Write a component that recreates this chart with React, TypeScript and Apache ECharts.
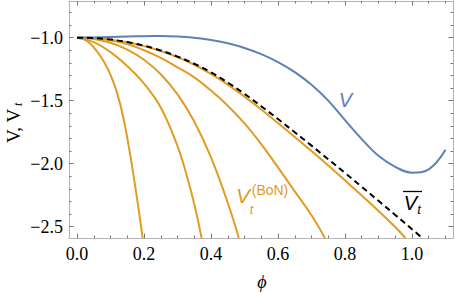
import { useEffect, useRef } from "react";
import * as echarts from "echarts";

// ---- data ----
const vPhi = [0, 0.05, 0.1, 0.15, 0.2, 0.25, 0.3, 0.35, 0.4, 0.45, 0.5, 0.55, 0.6, 0.65, 0.7, 0.75, 0.8, 0.85, 0.9, 0.95, 1.0, 1.05, 1.1];
const vVals = [-1.0, -0.998, -0.994, -0.99, -0.988, -0.987, -0.99, -1.0, -1.018, -1.045, -1.082, -1.131, -1.194, -1.274, -1.374, -1.5, -1.655, -1.805, -1.938, -2.025, -2.072, -2.045, -1.89];

const vbarPhi = [0, 0.05, 0.1, 0.15, 0.2, 0.25, 0.3, 0.35, 0.4, 0.45, 0.5, 0.55, 0.6, 0.65, 0.7, 0.75, 0.8, 0.85, 0.9, 0.95, 1.0, 1.03];
const vbarVals = [-1.0, -1.003, -1.015, -1.035, -1.064, -1.102, -1.15, -1.207, -1.276, -1.356, -1.446, -1.544, -1.646, -1.751, -1.857, -1.965, -2.074, -2.184, -2.295, -2.407, -2.52, -2.589];

const bon1Phi = [0, 0.02, 0.04, 0.06, 0.08, 0.1, 0.12, 0.14, 0.16, 0.18, 0.196];
const bon1Vals = [-1.0, -1.012, -1.048, -1.11, -1.19, -1.295, -1.44, -1.655, -1.95, -2.29, -2.59];

const bon2Phi = [0, 0.05, 0.1, 0.15, 0.2, 0.25, 0.3, 0.325, 0.35, 0.372];
const bon2Vals = [-1.0, -1.035, -1.115, -1.225, -1.365, -1.555, -1.86, -2.07, -2.32, -2.59];

const bon3Phi = [0, 0.05, 0.1, 0.15, 0.2, 0.25, 0.3, 0.35, 0.4, 0.45, 0.483];
const bon3Vals = [-1.0, -1.01, -1.04, -1.095, -1.175, -1.29, -1.45, -1.665, -1.95, -2.31, -2.59];

const bon4Phi = [0, 0.05, 0.1, 0.15, 0.2, 0.25, 0.3, 0.35, 0.4, 0.45, 0.5, 0.55, 0.6, 0.65, 0.7, 0.74];
const bon4Vals = [-1.0, -1.005, -1.02, -1.05, -1.1, -1.16, -1.235, -1.315, -1.42, -1.54, -1.68, -1.845, -2.03, -2.22, -2.41, -2.59];

const bon5Phi = [0, 0.05, 0.1, 0.15, 0.2, 0.25, 0.3, 0.35, 0.4, 0.45, 0.5, 0.55, 0.6, 0.65, 0.7, 0.75, 0.8, 0.85, 0.9, 0.95, 0.98];
const bon5Vals = [-1.0, -1.003, -1.016, -1.037, -1.067, -1.106, -1.155, -1.215, -1.288, -1.373, -1.468, -1.57, -1.678, -1.788, -1.9, -2.015, -2.133, -2.253, -2.375, -2.503, -2.59];

const xMajorTicks = [0, 0.2, 0.4, 0.6, 0.8, 1.0];
const xMinorTicks = [0.05, 0.1, 0.15, 0.25, 0.3, 0.35, 0.45, 0.5, 0.55, 0.65, 0.7, 0.75, 0.85, 0.9, 0.95, 1.05, 1.1];
const yMajorTicks = [-2.5, -2.0, -1.5, -1.0];
const yMinorTicks = [-2.4, -2.3, -2.2, -2.1, -1.9, -1.8, -1.7, -1.6, -1.4, -1.3, -1.2, -1.1, -0.9, -0.8];

const X_MIN = -0.0239;
const X_MAX = 1.1224;
const Y_MIN = -2.59;
const Y_MAX = -0.709;

const BLUE = "#5E81B5";
const ORANGE = "#E19C24";
const FRAME = "#b4b4b4";
const TICK = "#777777";

const zip = (xs: number[], ys: number[]) => xs.map((x, i) => [x, ys[i]]);

const fmt = (v: number) => (v < 0 ? "\u2212" : "") + Math.abs(v).toFixed(1);

export default function App() {
  const ref = useRef<HTMLDivElement>(null);
  useEffect(() => {
    if (!ref.current) return;
    const chart = echarts.init(ref.current, null, { renderer: "svg" });

    const mkX = (position: "bottom" | "top", ticks: number[], len: number, labels: boolean, line: boolean) => ({
      type: "value",
      gridIndex: 0,
      position,
      min: X_MIN,
      max: X_MAX,
      axisLine: { show: line, onZero: false, lineStyle: { color: FRAME, width: 1 } },
      axisTick: { show: true, inside: true, length: len, customValues: ticks, lineStyle: { color: TICK, width: 1 } },
      axisLabel: labels
        ? { show: true, customValues: ticks, formatter: (v: number) => v.toFixed(1), margin: 7, color: "#000", fontFamily: "Liberation Serif", fontSize: 18 }
        : { show: false },
      splitLine: { show: false },
    });
    const mkY = (position: "left" | "right", ticks: number[], len: number, labels: boolean, line: boolean) => ({
      type: "value",
      gridIndex: 0,
      position,
      min: Y_MIN,
      max: Y_MAX,
      axisLine: { show: line, onZero: false, lineStyle: { color: FRAME, width: 1 } },
      axisTick: { show: true, inside: true, length: len, customValues: ticks, lineStyle: { color: TICK, width: 1 } },
      axisLabel: labels
        ? { show: true, customValues: ticks, formatter: fmt, margin: 6, color: "#000", fontFamily: "Liberation Serif", fontSize: 18 }
        : { show: false },
      splitLine: { show: false },
    });

    const line = (data: number[][], color: string, dashed = false) => ({
      type: "line",
      xAxisIndex: 0,
      yAxisIndex: 0,
      data,
      showSymbol: false,
      symbol: "none",
      smooth: 0.4,
      clip: true,
      lineStyle: { color, width: 2, type: dashed ? [6, 4] : "solid" },
      z: dashed ? 5 : 3,
    });

    chart.setOption({
      animation: false,
      backgroundColor: "#ffffff",
      grid: { left: 69, top: 1, width: 384, height: 237, containLabel: false },
      xAxis: [
        mkX("bottom", xMajorTicks, 4.5, true, true),
        mkX("bottom", xMinorTicks, 2.5, false, false),
        mkX("top", xMajorTicks, 4.5, false, true),
        mkX("top", xMinorTicks, 2.5, false, false),
      ],
      yAxis: [
        mkY("left", yMajorTicks, 4.5, true, true),
        mkY("left", yMinorTicks, 2.5, false, false),
        mkY("right", yMajorTicks, 4.5, false, true),
        mkY("right", yMinorTicks, 2.5, false, false),
      ],
      series: [
        line(zip(bon1Phi, bon1Vals), ORANGE),
        line(zip(bon2Phi, bon2Vals), ORANGE),
        line(zip(bon3Phi, bon3Vals), ORANGE),
        line(zip(bon4Phi, bon4Vals), ORANGE),
        line(zip(bon5Phi, bon5Vals), ORANGE),
        line(zip(vPhi, vVals), BLUE),
        line(zip(vbarPhi, vbarVals), "#000000", true),
      ],
      graphic: [
        // y-axis title "V, V_t"
        {
          type: "group",
          x: 13,
          y: 122,
          rotation: Math.PI / 2,
          children: [
            { type: "text", x: -21, y: 0, style: { text: "V, V", font: '19px "Liberation Serif"', fill: "#000", textAlign: "left", textVerticalAlign: "middle" } },
            { type: "text", x: 16, y: 5, style: { text: "t", font: 'italic 12px "Liberation Serif"', fill: "#000", textAlign: "left", textVerticalAlign: "middle" } },
          ],
        },
        // x-axis title phi
        { type: "text", x: 262, y: 281.5, style: { text: "\u03D5", font: 'italic 18px "Liberation Serif"', fill: "#000", textAlign: "center", textVerticalAlign: "middle" } },
        // V label (blue)
        { type: "text", x: 345.5, y: 100, style: { text: "V", font: 'italic 20px "Liberation Sans"', fill: BLUE, textAlign: "center", textVerticalAlign: "middle" } },
        // V_t^(BoN) label (orange)
        { type: "text", x: 243, y: 195.5, style: { text: "V", font: 'italic 21px "Liberation Sans"', fill: ORANGE, textAlign: "center", textVerticalAlign: "middle" } },
        { type: "text", x: 251.5, y: 209.5, style: { text: "t", font: 'italic 13px "Liberation Sans"', fill: ORANGE, textAlign: "center", textVerticalAlign: "middle" } },
        { type: "text", x: 270, y: 190, style: { text: "(BoN)", font: '14px "Liberation Sans"', fill: ORANGE, textAlign: "center", textVerticalAlign: "middle" } },
        // overline V_t label (black)
        { type: "line", shape: { x1: 403, y1: 191.5, x2: 422, y2: 191.5 }, style: { stroke: "#000", lineWidth: 1.3 } },
        { type: "text", x: 410.5, y: 202.5, style: { text: "V", font: 'italic 20px "Liberation Sans"', fill: "#000", textAlign: "center", textVerticalAlign: "middle" } },
        { type: "text", x: 419, y: 209, style: { text: "t", font: 'italic 13px "Liberation Sans"', fill: "#000", textAlign: "center", textVerticalAlign: "middle" } },
      ],
    });
    return () => chart.dispose();
  }, []);
  return <div ref={ref} style={{ position: "fixed", left: 0, top: 0, width: 455, height: 293 }} />;
}
